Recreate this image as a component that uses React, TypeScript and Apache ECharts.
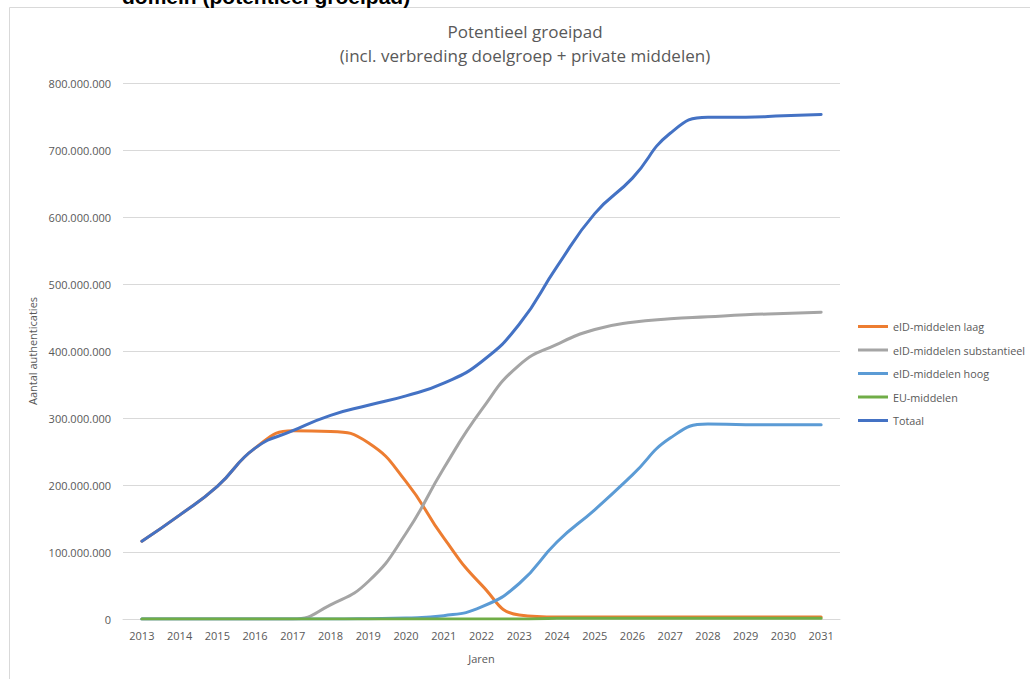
import React, { useEffect, useRef } from "react";
import * as echarts from "echarts";

const years = ["2013","2014","2015","2016","2017","2018","2019","2020","2021","2022","2023","2024","2025","2026","2027","2028","2029","2030","2031"];
const M = 1000000;
const laag = [116, 155, 198, 255, 281, 280, 263, 205, 121, 51, 6, 3, 3, 3, 3, 3, 3, 3, 3];
const substantieel = [0, 0, 0, 0, 0, 21, 56, 128, 225, 312, 379, 410, 432, 443, 448, 451, 454, 456, 458];
const hoog = [0, 0, 0, 0, 0, 0, 0.5, 1.5, 5, 18, 53, 115, 163, 215, 270, 291, 290, 290, 290];
const euMiddelen = [0, 0, 0, 0, 0, 0, 0, 0, 0, 0, 0, 1, 1, 1, 1, 1, 1, 1, 1];
const totaal = [116, 155, 198, 255, 281, 304, 319, 333, 352, 384, 440, 526, 605, 658, 725, 749, 749, 751, 753];

const seriesNames = ["eID-middelen laag", "eID-middelen substantieel", "eID-middelen hoog", "EU-middelen", "Totaal"];
const seriesColors = ["#ED7D31", "#A5A5A5", "#5B9BD5", "#70AD47", "#4472C4"];
const seriesData = [laag, substantieel, hoog, euMiddelen, totaal];

const fmt = (v: number) => String(Math.round(v)).replace(/\B(?=(\d{3})+(?!\d))/g, ".");

export default function App() {
  const ref = useRef<HTMLDivElement>(null);
  useEffect(() => {
    if (!ref.current) return;
    const chart = echarts.init(ref.current, undefined, { renderer: "svg" });
    const font = "'Open Sans', 'Noto Sans', sans-serif";
    chart.setOption({
      animation: false,
      backgroundColor: "#ffffff",
      textStyle: { fontFamily: font },
      title: {
        text: "Potentieel groeipad\n(incl. verbreding doelgroep + private middelen)",
        left: 525,
        top: 20,
        padding: 0,
        textAlign: "center",
        textStyle: { fontFamily: font, fontSize: 17, fontWeight: "normal", color: "#595959", lineHeight: 23.5 },
      },
      graphic: [
        {
          type: "rect",
          shape: { x: 9.5, y: 7.5, width: 1100, height: 800 },
          style: { fill: "none", stroke: "#d9d9d9", lineWidth: 1 },
          silent: true,
          z: -1,
        },
        {
          type: "text",
          x: 122,
          y: 7,
          style: {
            text: "domein (potentieel groeipad)",
            fontFamily: "'Liberation Sans', Arial, sans-serif",
            fontWeight: "bold",
            fontSize: 21,
            fill: "#000000",
            verticalAlign: "bottom",
          },
        },
      ],
      legend: {
        orient: "vertical",
        left: 858,
        top: 321,
        padding: 0,
        itemGap: 12.5,
        itemWidth: 30,
        itemHeight: 3,
        icon: "rect",
        data: seriesNames,
        textStyle: { color: "#595959", fontSize: 10.8, fontFamily: font },
      },
      grid: { left: 123, right: 190, top: 83, bottom: 60 },
      xAxis: {
        type: "category",
        data: years,
        boundaryGap: true,
        name: "Jaren",
        nameLocation: "middle",
        nameGap: 39,
        nameTextStyle: { color: "#595959", fontSize: 11, verticalAlign: "middle" },
        axisLine: { lineStyle: { color: "#d9d9d9", width: 1 } },
        axisTick: { show: false },
        axisLabel: { color: "#595959", fontSize: 11, margin: 11 },
      },
      yAxis: {
        type: "value",
        min: 0,
        max: 800 * M,
        interval: 100 * M,
        name: "Aantal authenticaties",
        nameLocation: "middle",
        nameGap: 86,
        nameRotate: 90,
        nameTextStyle: { color: "#595959", fontSize: 11, verticalAlign: "middle" },
        axisLine: { show: false },
        axisTick: { show: false },
        axisLabel: { color: "#595959", fontSize: 11, margin: 12, formatter: (v: number) => fmt(v) },
        splitLine: { lineStyle: { color: "#d9d9d9", width: 1 } },
      },
      series: seriesNames.map((name, i) => ({
        name,
        type: "line",
        data: seriesData[i].map((v) => v * M),
        smooth: true,
        showSymbol: false,
        symbol: "none",
        color: seriesColors[i],
        lineStyle: { color: seriesColors[i], width: 3, cap: "round" },
        z: 2 + i,
      })),
    });
    return () => chart.dispose();
  }, []);
  return (
    <div
      ref={ref}
      style={{ position: "fixed", left: 0, top: 0, width: 1030, height: 679, background: "#fff" }}
    />
  );
}
